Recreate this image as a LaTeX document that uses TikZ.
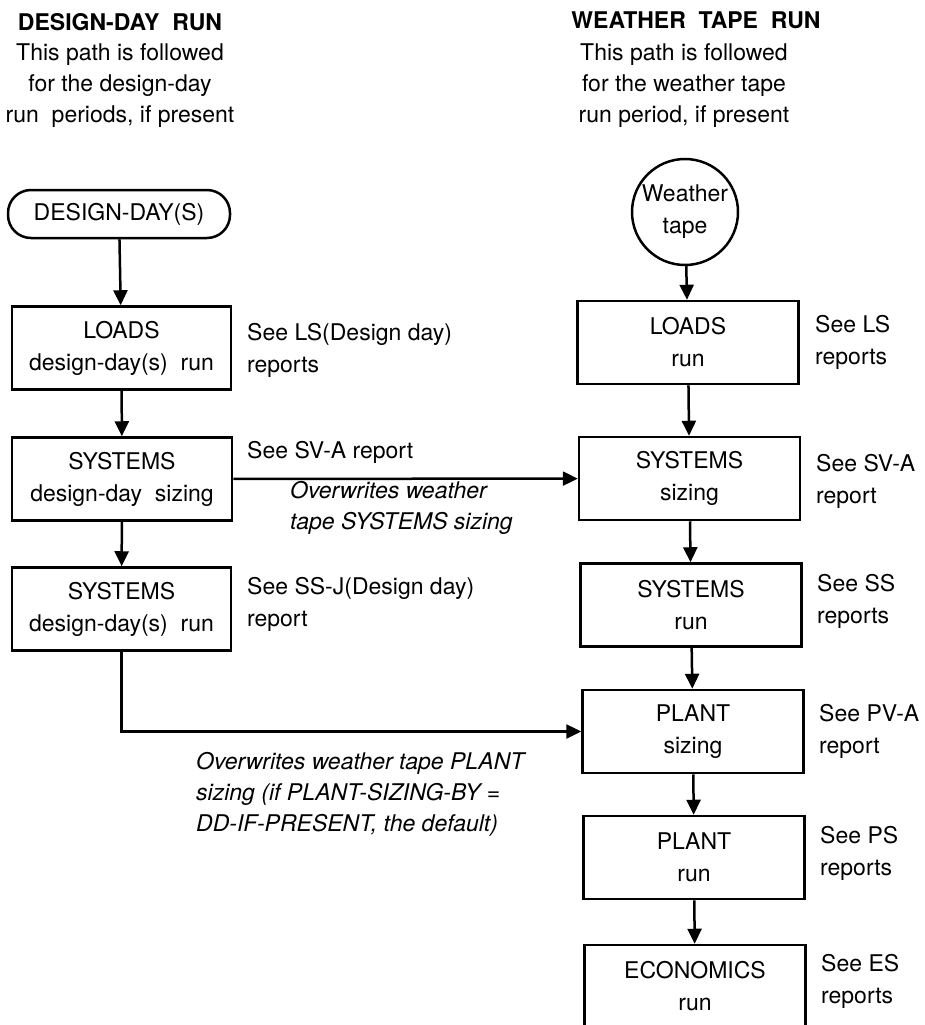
\documentclass[tikz,border=0pt]{standalone}
\usepackage{fontspec}
\setmainfont{TeX Gyre Heros}
\usetikzlibrary{arrows.meta}
\begin{document}
\begin{tikzpicture}[x=1pt,y=-1pt,
  every node/.style={font=\fontsize{23}{32}\selectfont, inner sep=0pt},
  box/.style={draw, line width=2.5pt, minimum width=221pt, minimum height=83pt, align=center},
  startbox/.style={draw, line width=2.5pt, rounded corners=23pt, minimum width=222pt, minimum height=48pt, align=center},
  tapecircle/.style={draw, circle, line width=2.5pt, minimum size=106pt, align=center},
  title/.style={font=\fontsize{23}{32}\selectfont\bfseries, align=center},
  desc/.style={align=center, font=\fontsize{23}{31}\selectfont},
  side/.style={anchor=west, align=left},
  note/.style={anchor=west, align=left, font=\fontsize{23}{31}\selectfont\itshape},
  flow/.style={line width=2.5pt, -{Triangle[length=15pt,width=14pt]}}
]
\useasboundingbox (0,0) rectangle (924,1025);
\clip (0,0) rectangle (924,1025);

% titles
\node[title] (t1) at (120,22) {DESIGN-DAY\ \ RUN};
\node[desc] (d1) at (120,86) {This path is followed\\for the design-day\\run\ \ periods, if present};
\node[title] (t2) at (696,20) {WEATHER\ \ TAPE\ \ RUN};
\node[desc] (d2) at (684,86) {This path is followed\\for the weather tape\\run period, if present};

% left column
\node[startbox] (dd) at (119,214) {DESIGN-DAY(S)};
\node[box, minimum width=219pt] (l1) at (121.5,348) {LOADS\\design-day(s)\ \ run};
\node[box, minimum width=220pt] (l2) at (122,479) {SYSTEMS\\design-day\ \ sizing};
\node[box, minimum width=219pt] (l3) at (121.5,609) {SYSTEMS\\design-day(s)\ \ run};

% right column
\node[tapecircle] (wt) at (685,212) {Weather\\tape};
\node[box] (r1) at (688,342.5) {LOADS\\run};
\node[box] (r2) at (689.5,478.5) {SYSTEMS\\sizing};
\node[box] (r3) at (691,605) {SYSTEMS\\run};
\node[box] (r4) at (693,731.5) {PLANT\\sizing};
\node[box] (r5) at (694,857.5) {PLANT\\run};
\node[box] (r6) at (695,986.5) {ECONOMICS\\run};

% side labels
\node[side] (s1) at (247,350) {See LS(Design day)\\reports};
\node[side] (s2) at (247,452) {See SV-A report};
\node[side] (s3) at (247,604) {See SS-J(Design day)\\report};
\node[side] (q1) at (815,342) {See LS\\reports};
\node[side] (q2) at (816,481) {See SV-A\\report};
\node[side] (q3) at (817,601) {See SS\\reports};
\node[side] (q4) at (819,731) {See PV-A\\report};
\node[side] (q5) at (820,853) {See PS\\reports};
\node[side] (q6) at (821,981) {See ES\\reports};

% notes
\node[note] (n1) at (290,508) {Overwrites weather\\tape SYSTEMS sizing};
\node[note] (n2) at (196,794) {Overwrites weather tape PLANT\\sizing (if PLANT-SIZING-BY =\\DD-IF-PRESENT, the default)};

% connectors
\draw[flow] (dd) -- (l1);
\draw[flow] (l1) -- (l2);
\draw[flow] (l2) -- (l3);
\draw[flow] (wt) -- (r1);
\draw[flow] (r1) -- (r2);
\draw[flow] (r2) -- (r3);
\draw[flow] (r3) -- (r4);
\draw[flow] (r4) -- (r5);
\draw[flow] (r5) -- (r6);
\draw[flow] (l2) -- (r2);
\draw[flow] (l3.south) |- (r4.west);
\end{tikzpicture}
\end{document}
